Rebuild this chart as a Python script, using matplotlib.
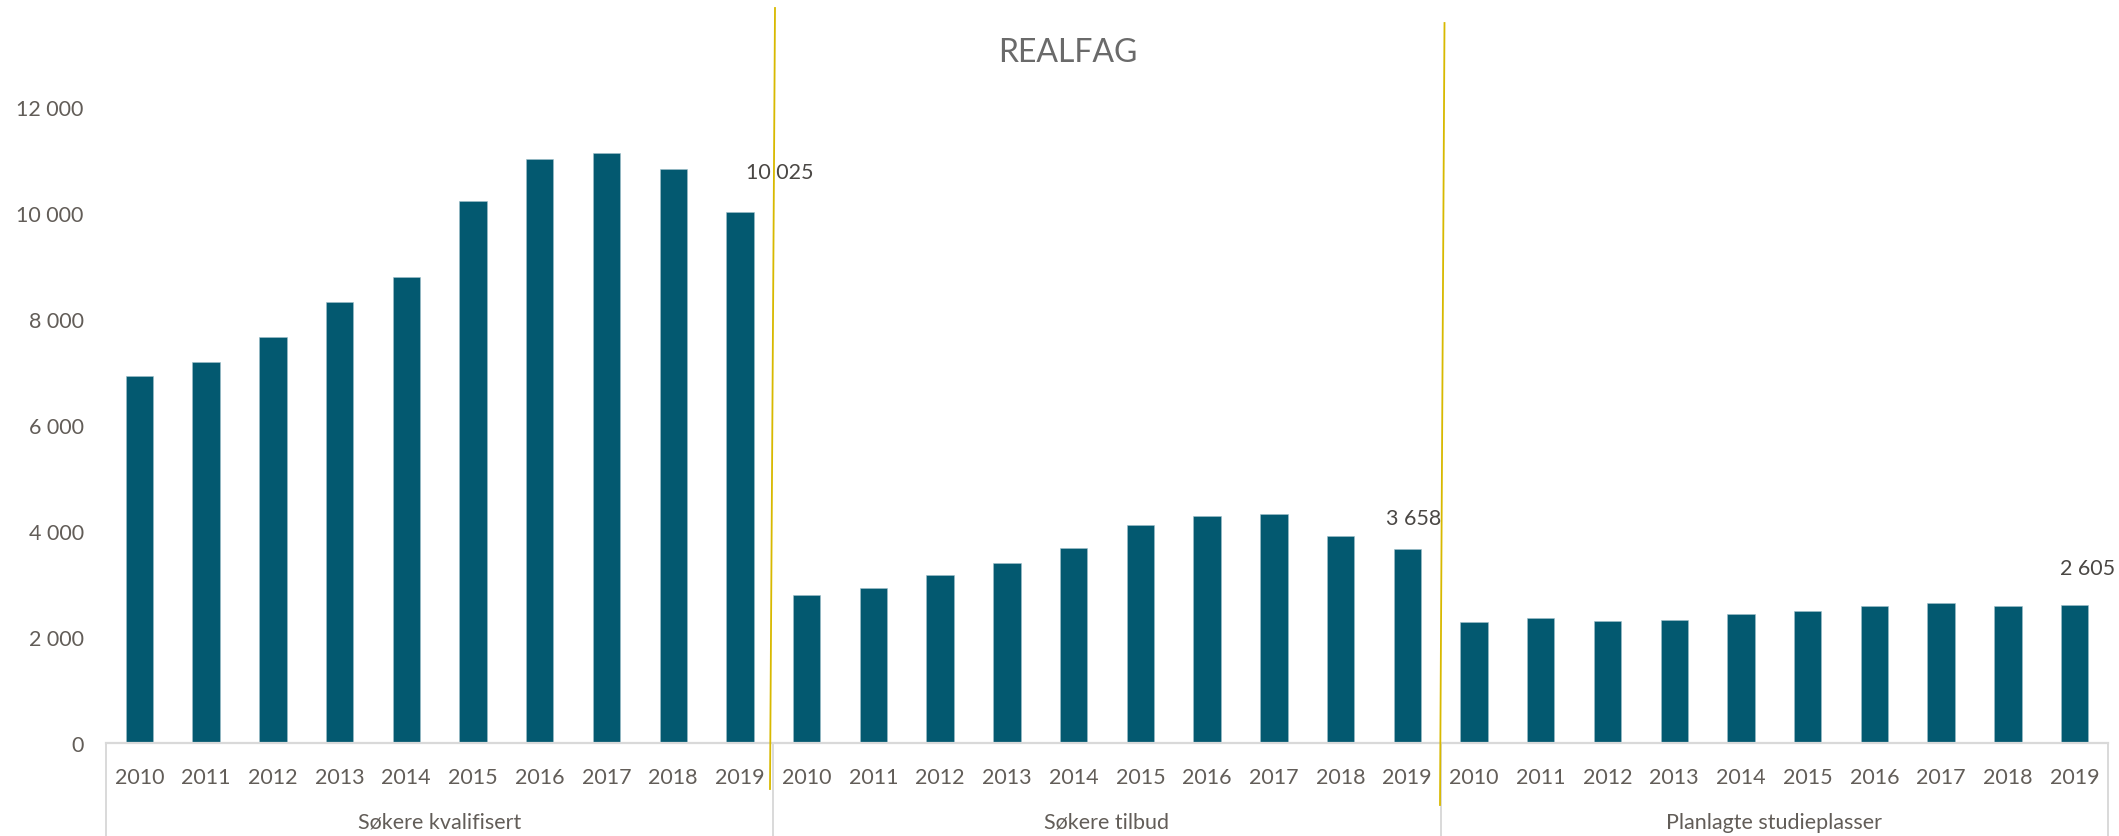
import numpy as np
import matplotlib.pyplot as plt
from matplotlib.lines import Line2D
from matplotlib.ticker import FuncFormatter

plt.rcParams['font.family'] = ['Lato', 'DejaVu Sans']

groups = ['Søkere kvalifisert', 'Søkere tilbud', 'Planlagte studieplasser']
years = ['2010', '2011', '2012', '2013', '2014', '2015', '2016', '2017', '2018', '2019']
kvalifisert = [6930, 7190, 7660, 8320, 8790, 10230, 11010, 11140, 10830, 10025]
tilbud = [2790, 2930, 3170, 3390, 3670, 4110, 4290, 4320, 3900, 3658]
studieplasser = [2280, 2350, 2310, 2320, 2440, 2500, 2580, 2640, 2590, 2605]

values = kvalifisert + tilbud + studieplasser
x = np.arange(len(values))

bar_col = '#035970'
grey = '#625d58'

W, H = 2119, 837
fig = plt.figure(figsize=(W / 100, H / 100), dpi=100)
ax = fig.add_axes([106 / W, 1 - 744 / H, (2108 - 106) / W, (744 - 2) / H])

ax.bar(x, values, width=0.41, color=bar_col, edgecolor='#9fc0ca', linewidth=0.4)

ax.set_xlim(-0.5, len(values) - 0.5)
ax.set_ylim(0, 14000)
ax.set_yticks(range(0, 12001, 2000))
ax.yaxis.set_major_formatter(FuncFormatter(lambda v, p: f'{int(v):,}'.replace(',', ' ')))
ax.set_xticks(x, years * 3)
ax.tick_params(axis='y', length=0, pad=16, labelsize=15.5, labelcolor=grey)
ax.tick_params(axis='x', length=0, pad=17, labelsize=15.5, labelcolor=grey)

for s in ['top', 'right', 'left']:
    ax.spines[s].set_visible(False)
ax.spines['bottom'].set_color('#d9d9d9')
ax.spines['bottom'].set_linewidth(1.6)

# group separators below the axis
for sep in [-0.5, 9.5, 19.5, 29.5]:
    ax.axvline(sep, ymin=-0.2, ymax=0, color='#d9d9d9', lw=1.4, clip_on=False)

for i, g in enumerate(groups):
    ax.text(i * 10 + 4.5, -(823 - 744) / 742, g, transform=ax.get_xaxis_transform(),
            ha='center', va='center', fontsize=15.5, color=grey)

# data labels on the last bar of each group
offsets = [(40, 40), (6, 31), (13, 37)]
for i, (dx, dy) in enumerate(offsets):
    k = i * 10 + 9
    ax.annotate(f'{values[k]:,}'.replace(',', ' '), (x[k], values[k]),
                xytext=(dx, dy), textcoords='offset pixels',
                ha='center', va='center', fontsize=15.5, color='#4a4744')

fig.text(1068 / W, 1 - 53 / H, 'REALFAG', ha='center', va='center',
         fontsize=23, color='#6a6a6a')

# hand drawn yellow dividers
for (x0, y0, x1, y1) in [(775, 9, 770, 790), (1444.5, 24, 1440, 806)]:
    fig.add_artist(Line2D([x0 / W, x1 / W], [1 - y0 / H, 1 - y1 / H],
                          color='#d8b900', lw=1.3))

fig.savefig('out.png', dpi=100)
